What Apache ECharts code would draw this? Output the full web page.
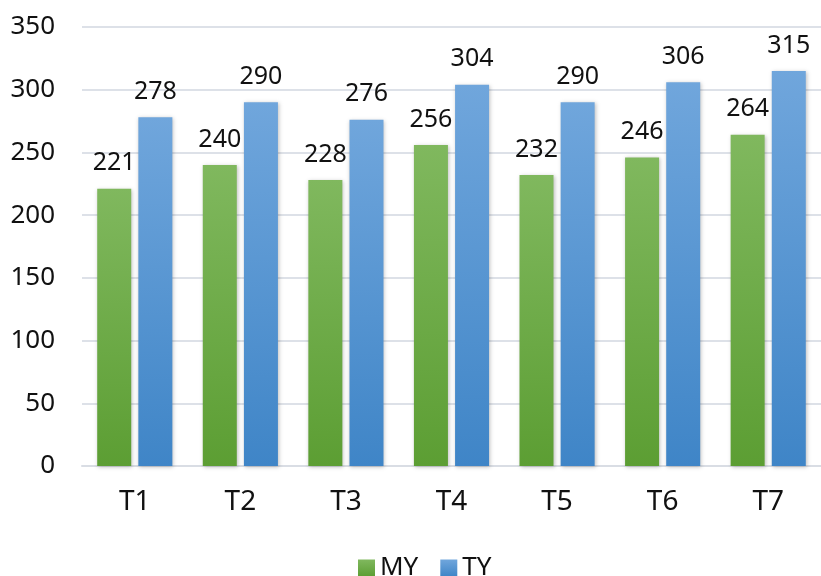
<!DOCTYPE html>
<html>
<head>
<meta charset="utf-8">
<script src="https://cdn.jsdelivr.net/npm/echarts@6/dist/echarts.min.js"></script>
<style>
  html, body { margin: 0; padding: 0; background: #ffffff; }
  #chart { width: 821px; height: 576px; }
</style>
</head>
<body>
<div id="chart"></div>
<script>
const categories = ['T1', 'T2', 'T3', 'T4', 'T5', 'T6', 'T7'];
const myValues = [221, 240, 228, 256, 232, 246, 264];
const tyValues = [278, 290, 276, 304, 290, 306, 315];

const fontFamily = '"Noto Sans", sans-serif';

function gradient(top, bottom) {
  return new echarts.graphic.LinearGradient(0, 0, 0, 1, [
    { offset: 0, color: top },
    { offset: 1, color: bottom }
  ]);
}

const labelStyle = {
  show: true,
  position: 'top',
  distance: 13,
  color: '#111111',
  fontSize: 25,
  fontFamily: fontFamily
};

const barShadow = {
  shadowColor: 'rgba(0,0,0,0.25)',
  shadowBlur: 4,
  shadowOffsetX: 1,
  shadowOffsetY: 1
};

const option = {
  animation: false,
  backgroundColor: '#ffffff',
  grid: {
    left: 82,
    right: 0,
    top: 27,
    bottom: 110
  },
  legend: {
    top: 550,
    left: 353,
    itemWidth: 17,
    itemHeight: 17,
    itemGap: 22,
    icon: 'rect',
    textStyle: { fontSize: 26, color: '#111111', fontFamily: fontFamily },
    data: ['MY', 'TY']
  },
  xAxis: {
    type: 'category',
    data: categories,
    axisLine: { lineStyle: { color: '#d9dde4', width: 2 } },
    axisTick: { show: false },
    axisLabel: {
      fontSize: 28,
      color: '#111111',
      margin: 22,
      fontFamily: fontFamily
    }
  },
  yAxis: {
    type: 'value',
    min: 0,
    max: 350,
    interval: 50,
    axisLine: { show: false },
    axisTick: { show: false },
    splitLine: { lineStyle: { color: '#dde1e8', width: 2 } },
    axisLabel: {
      fontSize: 26,
      color: '#111111',
      margin: 27,
      fontFamily: fontFamily
    }
  },
  series: [
    {
      name: 'MY',
      type: 'bar',
      data: myValues,
      barWidth: 34,
      barGap: '21%',
      itemStyle: Object.assign({ color: gradient('#80b85e', '#5c9e33') }, barShadow),
      label: labelStyle
    },
    {
      name: 'TY',
      type: 'bar',
      data: tyValues,
      barWidth: 34,
      barGap: '21%',
      itemStyle: Object.assign({ color: gradient('#70a6dc', '#3f85c7') }, barShadow),
      label: labelStyle
    }
  ]
};

const myChart = echarts.init(document.getElementById('chart'));
myChart.setOption(option);
</script>
</body>
</html>
